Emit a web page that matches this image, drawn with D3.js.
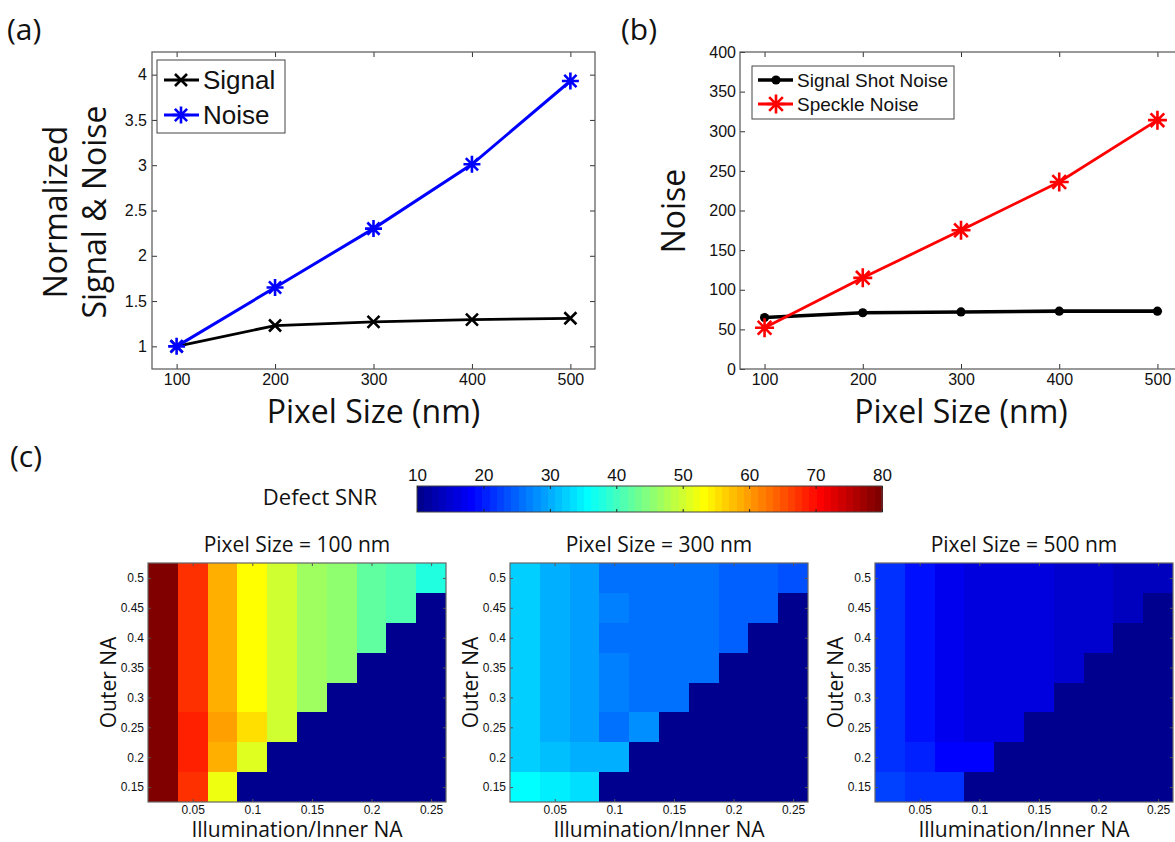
<!DOCTYPE html>
<html>
<head>
<meta charset="utf-8">
<script src="https://cdn.jsdelivr.net/npm/d3@7"></script>
<style>
  html, body { margin: 0; padding: 0; background: #fff; }
  svg { display: block; }
</style>
</head>
<body>
<script>
// ---------------- DATA ----------------
const pixelSizes = [100, 200, 300, 400, 500];
const xTicksLine = [100, 200, 300, 400, 500];

// Panel (a)
const signalNorm = [1.00, 1.23, 1.27, 1.295, 1.31];
const noiseNorm  = [1.00, 1.65, 2.30, 3.01, 3.93];
const yTicksA = [1, 1.5, 2, 2.5, 3, 3.5, 4];

// Panel (b)
const shotNoise    = [65, 71, 72, 73, 73];
const speckleNoise = [52, 115, 175, 236, 314];
const yTicksB = [0, 50, 100, 150, 200, 250, 300, 350, 400];

// Panel (c)
const innerNA = [0.025, 0.05, 0.075, 0.1, 0.125, 0.15, 0.175, 0.2, 0.225, 0.25];
const outerNA = [0.5, 0.45, 0.4, 0.35, 0.3, 0.25, 0.2, 0.15];
const heatXTicks = [0.05, 0.1, 0.15, 0.2, 0.25];
const heatYTicks = [0.15, 0.2, 0.25, 0.3, 0.35, 0.4, 0.45, 0.5];
const colorbarTicks = [10, 20, 30, 40, 50, 60, 70, 80];
const pixelTitles = ["Pixel Size = 100 nm", "Pixel Size = 300 nm", "Pixel Size = 500 nm"];

// rows: outer NA 0.5 (top) ... 0.15 (bottom); columns: inner NA 0.025 ... 0.25
const snr100 = [
  [80, 67.4, 58.7, 53.2, 49.9, 46.6, 45.5, 42.2, 41.0, 37.8],
  [80, 67.4, 58.7, 53.2, 49.9, 46.6, 45.5, 42.2, 41.0, 10],
  [80, 67.4, 58.7, 53.2, 49.9, 46.6, 45.5, 42.2, 10, 10],
  [80, 67.4, 58.7, 53.2, 49.9, 46.6, 45.5, 10, 10, 10],
  [80, 67.4, 58.7, 53.2, 49.9, 46.6, 10, 10, 10, 10],
  [80, 68.5, 59.5, 55.4, 50.2, 10, 10, 10, 10, 10],
  [80, 68.5, 59.2, 51.0, 10, 10, 10, 10, 10, 10],
  [80, 67.4, 52.1, 10, 10, 10, 10, 10, 10, 10]
];
const snr300 = [
  [32.4, 30.2, 28.6, 25.9, 25.8, 25.8, 25.8, 24.7, 24.5, 23.6],
  [32.4, 30.2, 28.6, 26.9, 25.8, 25.8, 25.8, 24.7, 24.5, 10],
  [32.4, 30.2, 28.6, 25.9, 25.8, 25.8, 25.8, 24.7, 10, 10],
  [32.4, 30.2, 28.6, 26.9, 25.8, 25.8, 25.8, 10, 10, 10],
  [32.4, 30.2, 28.6, 26.9, 25.8, 26.4, 10, 10, 10, 10],
  [32.4, 30.2, 28.6, 26.4, 28.0, 10, 10, 10, 10, 10],
  [32.4, 31.3, 30.2, 30.2, 10, 10, 10, 10, 10, 10],
  [35.7, 34.6, 34.0, 10, 10, 10, 10, 10, 10, 10]
];
const snr500 = [
  [22.0, 19.3, 17.1, 16.0, 15.5, 15.5, 15.0, 14.4, 14.0, 13.8],
  [22.0, 19.3, 17.1, 16.0, 15.5, 15.5, 15.0, 14.4, 14.0, 10],
  [22.0, 19.3, 17.1, 16.0, 15.5, 15.5, 15.0, 14.4, 10, 10],
  [22.0, 19.3, 17.1, 16.0, 15.5, 15.5, 15.0, 10, 10, 10],
  [22.0, 19.3, 17.1, 16.5, 15.5, 15.5, 10, 10, 10, 10],
  [22.0, 19.3, 17.5, 16.5, 16.0, 10, 10, 10, 10, 10],
  [22.0, 20.0, 18.2, 18.2, 10, 10, 10, 10, 10, 10],
  [22.5, 21.6, 21.6, 10, 10, 10, 10, 10, 10, 10]
];

// ---------------- HELPERS ----------------
const W = 1175, H = 842;
const svg = d3.select("body").append("svg").attr("width", W).attr("height", H);
const LABEL_FONT = "'Open Sans', 'Noto Sans', sans-serif";
const TICK_FONT = "'Liberation Sans', Arial, sans-serif";

// MATLAB jet(64)
function jet64() {
  const m = 64, n = 16;
  const u = [];
  for (let i = 1; i <= n; i++) u.push(i / n);
  for (let i = 1; i < n; i++) u.push(1);
  for (let i = n; i >= 1; i--) u.push(i / n);
  const J = d3.range(m).map(() => [0, 0, 0]);
  const g0 = Math.ceil(n / 2) - (m % 4 === 1 ? 1 : 0);
  u.forEach((val, k) => {
    const gi = g0 + k + 1, ri = gi + n, bi = gi - n;
    if (gi >= 1 && gi <= m) J[gi - 1][1] = val;
    if (ri >= 1 && ri <= m) J[ri - 1][0] = val;
    if (bi >= 1 && bi <= m) J[bi - 1][2] = val;
  });
  return J.map(c => d3.rgb(c[0] * 255, c[1] * 255, c[2] * 255).formatHex());
}
const jetColors = jet64();
const color = d3.scaleQuantize().domain([10, 80]).range(jetColors);

function styleAxis(g, fontSize, tickColor) {
  g.select(".domain").remove();
  g.selectAll(".tick line").attr("stroke", tickColor).attr("stroke-width", 1);
  g.selectAll(".tick text").attr("font-family", TICK_FONT).attr("font-size", fontSize).attr("fill", "#111");
}

function boxAxes(g, x, y, xTicks, yTicks, opts) {
  const [x0, x1] = x.range(), [y0, y1] = y.range(); // y0 bottom, y1 top
  const ts = opts.tickLen;
  const gb = g.append("g").attr("transform", `translate(0,${y0})`)
    .call(d3.axisBottom(x).tickValues(xTicks).tickSize(-ts).tickPadding(opts.xPad).tickFormat(d => String(d)));
  styleAxis(gb, opts.font, opts.tickColor);
  const gt = g.append("g").attr("transform", `translate(0,${y1})`)
    .call(d3.axisTop(x).tickValues(xTicks).tickSize(-ts).tickFormat(""));
  styleAxis(gt, opts.font, opts.tickColor);
  const gl = g.append("g").attr("transform", `translate(${x0},0)`)
    .call(d3.axisLeft(y).tickValues(yTicks).tickSize(-ts).tickPadding(opts.yPad).tickFormat(d => String(d)));
  styleAxis(gl, opts.font, opts.tickColor);
  const gr = g.append("g").attr("transform", `translate(${x1},0)`)
    .call(d3.axisRight(y).tickValues(yTicks).tickSize(-ts).tickFormat(""));
  styleAxis(gr, opts.font, opts.tickColor);
  g.append("rect").attr("x", x0).attr("y", y1).attr("width", x1 - x0).attr("height", y0 - y1)
    .attr("fill", "none").attr("stroke", opts.boxColor).attr("stroke-width", 1.2);
}

function markerCross(g, cx, cy, r, col, sw) {
  g.append("path").attr("d", `M${cx - r},${cy - r}L${cx + r},${cy + r}M${cx - r},${cy + r}L${cx + r},${cy - r}`)
    .attr("stroke", col).attr("stroke-width", sw).attr("fill", "none");
}
function markerStar(g, cx, cy, r, col, sw) {
  const d = r * 0.72;
  g.append("path").attr("d",
    `M${cx},${cy - r}L${cx},${cy + r}M${cx - r},${cy}L${cx + r},${cy}` +
    `M${cx - d},${cy - d}L${cx + d},${cy + d}M${cx - d},${cy + d}L${cx + d},${cy - d}`)
    .attr("stroke", col).attr("stroke-width", sw).attr("fill", "none");
}
function markerDot(g, cx, cy, r, col) {
  g.append("circle").attr("cx", cx).attr("cy", cy).attr("r", r).attr("fill", col);
}

function panelLabel(txt, x, y) {
  svg.append("text").attr("x", x).attr("y", y).text(txt)
    .attr("font-family", LABEL_FONT).attr("font-size", 30).attr("fill", "#111");
}

// ---------------- PANEL (a) ----------------
{
  const g = svg.append("g");
  const x = d3.scaleLinear().domain([75, 525]).range([152, 595]);
  const y = d3.scaleLinear().domain([0.75, 4.25]).range([369, 52]);
  boxAxes(g, x, y, xTicksLine, yTicksA, { tickLen: 5, font: 16, xPad: 5, yPad: 5, tickColor: "#333", boxColor: "#555" });

  const line = d3.line().x((d, i) => x(pixelSizes[i])).y(d => y(d));
  g.append("path").datum(signalNorm).attr("d", line).attr("fill", "none").attr("stroke", "#000").attr("stroke-width", 2.8);
  g.append("path").datum(noiseNorm).attr("d", line).attr("fill", "none").attr("stroke", "#0000ff").attr("stroke-width", 3);
  signalNorm.forEach((v, i) => markerCross(g, x(pixelSizes[i]), y(v), 6, "#000", 2.6));
  noiseNorm.forEach((v, i) => markerStar(g, x(pixelSizes[i]), y(v), 8.5, "#0000ff", 2.6));

  // legend
  g.append("rect").attr("x", 157).attr("y", 60).attr("width", 128).attr("height", 73)
    .attr("fill", "#fff").attr("stroke", "#444").attr("stroke-width", 1);
  const leg = [["Signal", "#000", "x", 80], ["Noise", "#0000ff", "*", 115]];
  leg.forEach(([t, c, m, ly]) => {
    g.append("line").attr("x1", 164).attr("x2", 199).attr("y1", ly).attr("y2", ly).attr("stroke", c).attr("stroke-width", 2.8);
    if (m === "x") markerCross(g, 181, ly, 6, c, 2.6); else markerStar(g, 181, ly, 8.5, c, 2.6);
    g.append("text").attr("x", 203).attr("y", ly + 9).text(t)
      .attr("font-family", TICK_FONT).attr("font-size", 26).attr("fill", "#111");
  });

  // axis labels
  const yl = g.append("text").attr("transform", "translate(67,212) rotate(-90)")
    .attr("text-anchor", "middle").attr("font-family", LABEL_FONT).attr("font-size", 32).attr("fill", "#111");
  yl.append("tspan").attr("x", 0).attr("y", 0).text("Normalized");
  yl.append("tspan").attr("x", 0).attr("y", 39).text("Signal & Noise");
  g.append("text").attr("x", x(300)).attr("y", 423).attr("text-anchor", "middle")
    .attr("font-family", LABEL_FONT).attr("font-size", 32).attr("fill", "#111").text("Pixel Size (nm)");
  panelLabel("(a)", 7, 40);
}

// ---------------- PANEL (b) ----------------
{
  const g = svg.append("g");
  const x = d3.scaleLinear().domain([75, 525]).range([740, 1182]);
  const y = d3.scaleLinear().domain([0, 400]).range([369, 52]);
  boxAxes(g, x, y, xTicksLine, yTicksB, { tickLen: 5, font: 16, xPad: 5, yPad: 4, tickColor: "#333", boxColor: "#555" });

  const line = d3.line().x((d, i) => x(pixelSizes[i])).y(d => y(d));
  g.append("path").datum(shotNoise).attr("d", line).attr("fill", "none").attr("stroke", "#000").attr("stroke-width", 3.6);
  g.append("path").datum(speckleNoise).attr("d", line).attr("fill", "none").attr("stroke", "#ff0000").attr("stroke-width", 2.8);
  shotNoise.forEach((v, i) => markerDot(g, x(pixelSizes[i]), y(v), 4.6, "#000"));
  speckleNoise.forEach((v, i) => markerStar(g, x(pixelSizes[i]), y(v), 9.5, "#ff0000", 2.6));

  g.append("rect").attr("x", 752).attr("y", 66).attr("width", 202).attr("height", 53)
    .attr("fill", "#fff").attr("stroke", "#444").attr("stroke-width", 1);
  const leg = [["Signal Shot Noise", "#000", "o", 80], ["Speckle Noise", "#ff0000", "*", 104]];
  leg.forEach(([t, c, m, ly]) => {
    g.append("line").attr("x1", 758).attr("x2", 793).attr("y1", ly).attr("y2", ly).attr("stroke", c).attr("stroke-width", m === "o" ? 3.6 : 2.8);
    if (m === "o") markerDot(g, 776, ly, 4.6, c); else markerStar(g, 776, ly, 9.5, c, 2.6);
    g.append("text").attr("x", 797).attr("y", ly + 7).text(t)
      .attr("font-family", TICK_FONT).attr("font-size", 19).attr("fill", "#111");
  });

  g.append("text").attr("transform", "translate(685,211) rotate(-90)").attr("text-anchor", "middle")
    .attr("font-family", LABEL_FONT).attr("font-size", 32).attr("fill", "#111").text("Noise");
  g.append("text").attr("x", x(300)).attr("y", 423).attr("text-anchor", "middle")
    .attr("font-family", LABEL_FONT).attr("font-size", 32).attr("fill", "#111").text("Pixel Size (nm)");
  panelLabel("(b)", 621, 40);
}

// ---------------- PANEL (c) ----------------
panelLabel("(c)", 10, 467);

// colorbar
{
  const g = svg.append("g");
  const cx = d3.scaleLinear().domain([10, 80]).range([417, 882]);
  const top = 486, bot = 512;
  const bands = jetColors.map((c, i) => ({ c, v0: 10 + i * 70 / 64, v1: 10 + (i + 1) * 70 / 64 }));
  g.selectAll("rect.band").data(bands).join("rect").attr("class", "band")
    .attr("x", d => cx(d.v0)).attr("width", d => cx(d.v1) - cx(d.v0) + 0.8)
    .attr("y", top).attr("height", bot - top).attr("fill", d => d.c)
    .attr("shape-rendering", "crispEdges");
  g.append("rect").attr("x", 417).attr("y", top).attr("width", 465).attr("height", bot - top)
    .attr("fill", "none").attr("stroke", "#444").attr("stroke-width", 1);
  const ga = g.append("g").attr("transform", `translate(0,${top})`)
    .call(d3.axisTop(cx).tickValues(colorbarTicks).tickSize(-3).tickPadding(5));
  styleAxis(ga, 17, "#222");
  const gb = g.append("g").attr("transform", `translate(0,${bot})`)
    .call(d3.axisBottom(cx).tickValues(colorbarTicks).tickSize(-3).tickFormat(""));
  styleAxis(gb, 17, "#222");
  g.append("text").attr("x", 320).attr("y", 505).attr("text-anchor", "middle")
    .attr("font-family", LABEL_FONT).attr("font-size", 22).attr("fill", "#111").text("Defect SNR");
}

// heatmaps
const heatData = [snr100, snr300, snr500];
const heatLeft = [148, 510, 875];
heatData.forEach((mat, k) => {
  const g = svg.append("g");
  const left = heatLeft[k], right = left + 298, top = 563, bot = 802;
  const x = d3.scaleLinear().domain([0.0125, 0.2625]).range([left, right]);
  const y = d3.scaleLinear().domain([0.125, 0.525]).range([bot, top]);
  const cells = [];
  mat.forEach((row, r) => row.forEach((v, c) => cells.push({ xi: innerNA[c], yi: outerNA[r], v })));
  g.selectAll("rect.cell").data(cells).join("rect").attr("class", "cell")
    .attr("x", d => Math.round(x(d.xi - 0.0125)))
    .attr("y", d => Math.round(y(d.yi + 0.025)))
    .attr("width", d => Math.min(Math.round(x(d.xi + 0.0125)), right) - Math.round(x(d.xi - 0.0125)))
    .attr("height", d => Math.round(y(d.yi - 0.025)) - Math.round(y(d.yi + 0.025)))
    .attr("fill", d => color(d.v))
    .attr("shape-rendering", "crispEdges");
  boxAxes(g, x, y, heatXTicks, heatYTicks, { tickLen: 3, font: 12, xPad: 3, yPad: 4, tickColor: "#555", boxColor: "#666" });

  g.append("text").attr("x", (left + right) / 2).attr("y", 552).attr("text-anchor", "middle")
    .attr("font-family", LABEL_FONT).attr("font-size", 21).attr("fill", "#111").text(pixelTitles[k]);
  g.append("text").attr("transform", `translate(${left - 32},${(top + bot) / 2}) rotate(-90)`).attr("text-anchor", "middle")
    .attr("font-family", LABEL_FONT).attr("font-size", 21).attr("fill", "#111").text("Outer NA");
  g.append("text").attr("x", (left + right) / 2).attr("y", 837).attr("text-anchor", "middle")
    .attr("font-family", LABEL_FONT).attr("font-size", 21).attr("fill", "#111").text("Illumination/Inner NA");
});
</script>
</body>
</html>
